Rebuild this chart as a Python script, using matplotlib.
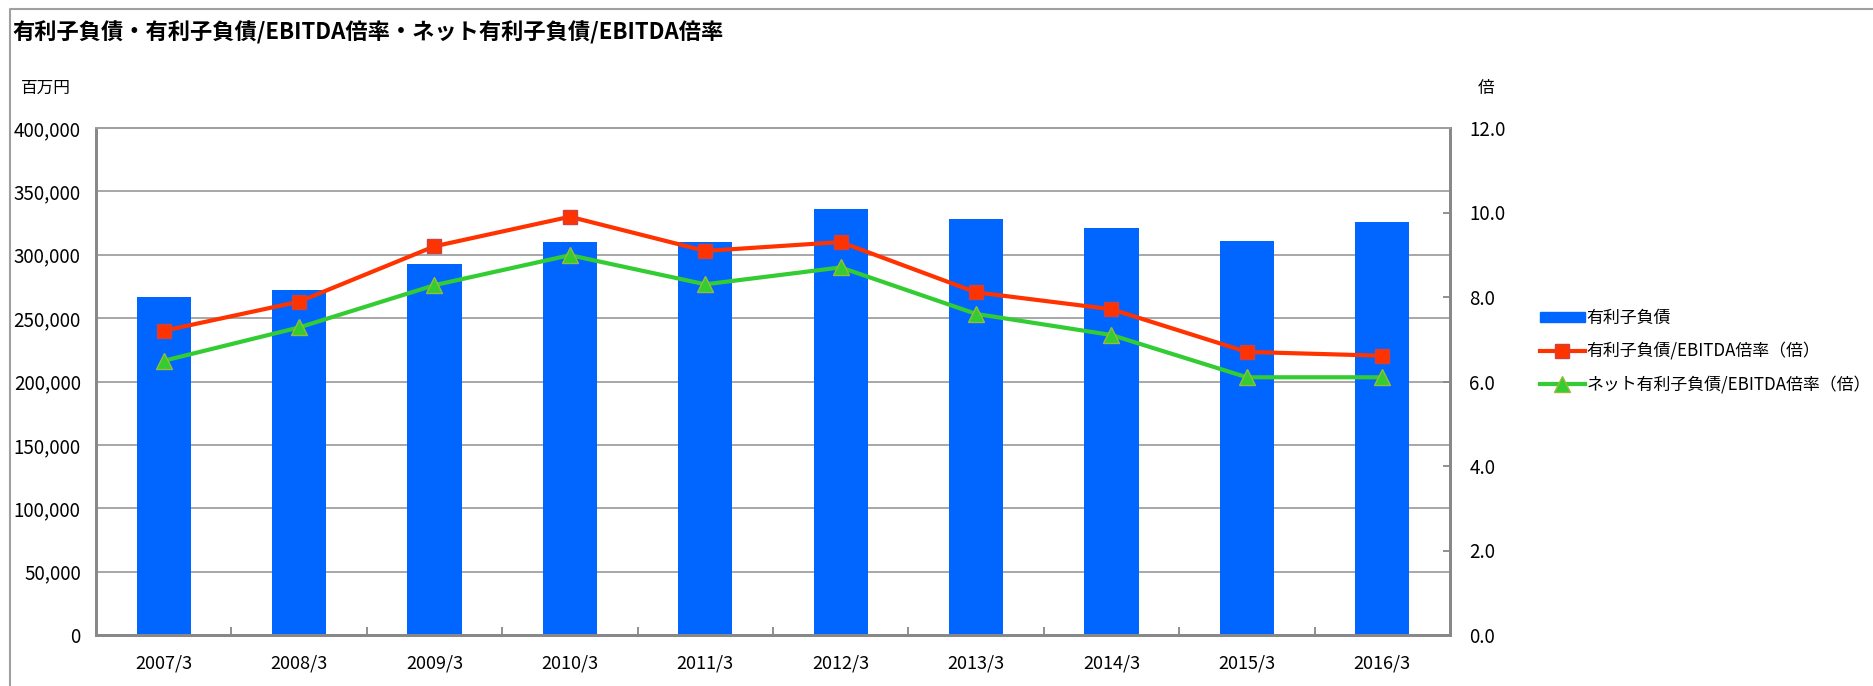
import matplotlib as mpl

mpl.use("Agg")

import matplotlib.pyplot as plt
import numpy as np
from matplotlib.lines import Line2D
from matplotlib.patches import Patch
from matplotlib.ticker import FuncFormatter, MultipleLocator

plt.rcParams["font.family"] = ["Noto Sans CJK JP", "DejaVu Sans"]

years = ["2007/3", "2008/3", "2009/3", "2010/3", "2011/3",
         "2012/3", "2013/3", "2014/3", "2015/3", "2016/3"]
debt = [266800, 271800, 292600, 310300, 310300,
        335800, 327900, 320800, 311100, 325800]
debt_ratio = [7.20, 7.89, 9.20, 9.90, 9.09, 9.30, 8.11, 7.71, 6.70, 6.61]
net_ratio = [6.49, 7.28, 8.28, 8.99, 8.30, 8.70, 7.60, 7.10, 6.10, 6.10]

title = "有利子負債・有利子負債/EBITDA倍率・ネット有利子負債/EBITDA倍率"
labels = ["有利子負債", "有利子負債/EBITDA倍率（倍）", "ネット有利子負債/EBITDA倍率（倍）"]

BLUE = "#0066ff"
RED = "#ff3300"
GREEN = "#33cc33"
GRID = "#a0a0a0"
SPINE = "#888888"


def main() -> None:
    fig = plt.figure(figsize=(18.74, 6.86), dpi=100)
    ax = fig.add_axes([96 / 1874, 1 - 635 / 686, (1450 - 96) / 1874, (635 - 128) / 686])
    ax2 = ax.twinx()

    x = np.arange(len(years))
    ax.bar(x, debt, width=0.4, color=BLUE, zorder=2)
    ax.set_xlim(-0.5, len(years) - 0.5)
    ax.set_ylim(0, 400000)
    ax.yaxis.set_major_locator(MultipleLocator(50000))
    ax.yaxis.set_major_formatter(FuncFormatter(lambda v, p: f"{int(v):,}"))
    ax.grid(axis="y", color=GRID, lw=1.3, zorder=0)
    ax.set_axisbelow(True)

    ax.set_xticks(x)
    ax.set_xticklabels(years)
    ax.set_xticks(np.arange(len(years) + 1) - 0.5, minor=True)
    ax.tick_params(axis="x", which="major", length=0, pad=14, labelsize=13)
    ax.tick_params(axis="x", which="minor", direction="in", length=6, width=1.3, color=SPINE)
    ax.tick_params(axis="y", direction="in", length=0, pad=11, labelsize=13.5)

    ax2.plot(x, debt_ratio, color=RED, lw=3, marker="s", ms=10,
             mfc=RED, mec="#d04040", mew=1, zorder=3)
    ax2.plot(x, net_ratio, color=GREEN, lw=3, marker="^", ms=11,
             mfc=GREEN, mec="#99bb33", mew=1, zorder=3)
    ax2.set_ylim(0, 12)
    ax2.yaxis.set_major_locator(MultipleLocator(2))
    ax2.yaxis.set_major_formatter(FuncFormatter(lambda v, p: f"{v:.1f}"))
    ax2.tick_params(axis="y", direction="in", length=5, width=1.3, color=SPINE,
                    pad=14, labelsize=13.5)

    for a in (ax, ax2):
        a.spines["top"].set_color(GRID)
        a.spines["top"].set_linewidth(1.3)
        for side in ("left", "right", "bottom"):
            a.spines[side].set_color(SPINE)
            a.spines[side].set_linewidth(2)

    fig.text(12 / 1874, 1 - 33 / 686, title, fontsize=16, fontweight="bold",
             va="center", ha="left")
    fig.text(21 / 1874, 1 - 88 / 686, "百万円", fontsize=12, va="center", ha="left")
    fig.text(1486 / 1874, 1 - 89 / 686, "倍", fontsize=12, va="center", ha="center")

    handles = [
        Patch(color=BLUE),
        Line2D([], [], color=RED, lw=3, marker="s", ms=10, mfc=RED, mec="#d04040"),
        Line2D([], [], color=GREEN, lw=3, marker="^", ms=11, mfc=GREEN, mec="#99bb33"),
    ]
    fig.legend(handles, labels, loc="center left", bbox_to_anchor=(1532 / 1874, 1 - 351 / 686),
               frameon=False, fontsize=12.2, handlelength=2.6, handleheight=0.5,
               handletextpad=0.1, labelspacing=0.9, borderpad=0)

    # outer frame (top and left edges)
    fig.add_artist(Line2D([10 / 1874, 10 / 1874, 1], [0, 1 - 9 / 686, 1 - 9 / 686],
                          transform=fig.transFigure, color="#a0a0a0", lw=1.5))

    fig.savefig("out.png", dpi=100)


if __name__ == "__main__":
    main()
